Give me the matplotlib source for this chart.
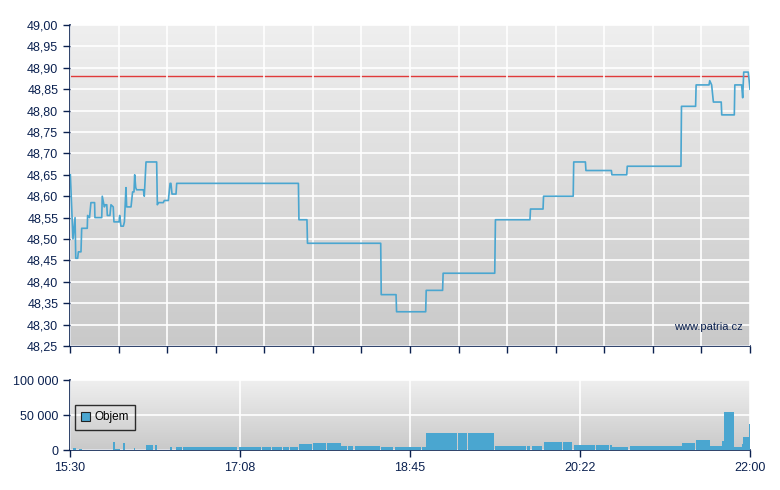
import numpy as np
import matplotlib
matplotlib.use('Agg')
from matplotlib import pyplot as plt

plt.rcParams['font.family'] = ['Liberation Sans', 'DejaVu Sans']

# price trace: minutes after 15:30, price
price_time = [0.2, 1.7, 2.9, 3.3, 4.4, 4.8, 6.3, 6.7, 9.9, 10.1, 11.2, 12.0, 14.1, 14.3,
              18.2, 18.5, 19.7, 20.3, 21.1, 21.4, 22.9, 23.5, 24.8, 25.2, 28.1, 28.5,
              29.2, 30.6, 31.2, 32.1, 32.5, 35.0, 35.9, 36.7, 37.1, 37.7, 38.2, 42.1,
              42.6, 43.6, 49.7, 50.1, 50.6, 53.5, 54.1, 56.4, 57.4, 57.9, 58.5, 60.8,
              61.2, 131.0, 131.3, 135.9, 136.2, 178.2, 178.5, 187.0, 187.3, 204.0,
              204.3, 213.7, 214.0, 243.6, 244.0, 263.8, 264.1, 271.3, 271.6, 288.6,
              288.9, 295.6, 295.9, 310.5, 310.8, 319.3, 319.6, 350.4, 350.7, 358.8,
              359.1, 366.5, 366.9, 368.0, 369.0, 373.5, 373.8, 381.0, 381.3, 385.2,
              385.8, 386.4, 389.0, 390.0]
price = [48.65, 48.50, 48.55, 48.455, 48.455, 48.47, 48.47, 48.525, 48.525, 48.555, 48.55,
         48.585, 48.585, 48.55, 48.55, 48.60, 48.575, 48.58, 48.58, 48.555, 48.555, 48.58,
         48.575, 48.54, 48.54, 48.555, 48.53, 48.53, 48.54, 48.62, 48.575, 48.575, 48.61,
         48.61, 48.65, 48.62, 48.615, 48.615, 48.60, 48.68, 48.68, 48.58, 48.585, 48.585,
         48.59, 48.59, 48.63, 48.63, 48.605, 48.605, 48.63, 48.63, 48.545, 48.545, 48.49,
         48.49, 48.37, 48.37, 48.33, 48.33, 48.38, 48.38, 48.42, 48.42, 48.545, 48.545,
         48.57, 48.57, 48.60, 48.60, 48.68, 48.68, 48.66, 48.66, 48.65, 48.65, 48.67,
         48.67, 48.81, 48.81, 48.86, 48.86, 48.87, 48.86, 48.82, 48.82, 48.79, 48.79,
         48.86, 48.86, 48.83, 48.89, 48.89, 48.85]
prev_close = 48.88

# volume bars: start minute, end minute, volume
vol_start = [1.7, 5.0, 24.5, 25.8, 30.2, 36.5, 43.6, 48.6, 57.2, 60.8, 64.6, 79.7, 97.1,
             110.1, 115.9, 122.0, 126.2, 131.3, 139.2, 147.2, 155.3, 159.4, 163.6, 178.2,
             186.4, 201.7, 204.0, 222.4, 228.1, 243.9, 260.0, 262.0, 264.8, 271.7, 282.6,
             289.1, 301.7, 309.7, 311.0, 321.2, 350.8, 359.0, 367.0, 369.0, 373.8, 375.3,
             381.0, 385.2, 386.2, 388.1, 389.4]
vol_end = [3.4, 6.9, 25.8, 28.7, 31.4, 37.1, 47.4, 49.7, 58.3, 64.2, 79.7, 96.0, 109.7,
           115.5, 121.4, 125.4, 130.9, 138.6, 146.8, 155.3, 159.0, 162.5, 177.8, 185.4,
           201.1, 204.0, 221.8, 227.5, 243.2, 259.6, 261.4, 263.8, 270.5, 282.0, 287.7,
           301.1, 309.1, 310.7, 320.2, 350.8, 358.5, 367.0, 369.0, 373.8, 375.3, 381.0,
           385.2, 386.2, 388.1, 389.4, 390.0]
volume = [3300, 1500, 12000, 1500, 10000, 3000, 7200, 7200, 4300, 4300, 4300, 4300, 4300,
          4300, 4300, 4300, 4300, 8700, 10600, 10600, 6300, 6300, 6300, 4300, 4300, 4300,
          25000, 25000, 25000, 5800, 5800, 5800, 5800, 12000, 12000, 7700, 7700, 7700,
          4300, 5800, 10600, 14400, 5800, 5800, 13500, 54800, 4300, 8000, 18800, 18800, 37500]

time_labels = ['15:30', '17:08', '18:45', '20:22', '22:00']

navy = '#0b2150'
blue = '#4aa6d0'

fig = plt.figure(figsize=(7.8, 4.9), dpi=100)
ax = fig.add_axes([70/780, 144/490, 680/780, 321/490])
axv = fig.add_axes([70/780, 40/490, 680/780, 70/490])

grad = np.linspace(0, 1, 256).reshape(-1, 1)
cmap = matplotlib.colors.LinearSegmentedColormap.from_list('bg', ['#efefef', '#c9c9c9'])

# price panel
ax.imshow(grad, aspect='auto', cmap=cmap, extent=[0, 390, 48.25, 49.0], zorder=0)
ax.set_xlim(0, 390)
ax.set_ylim(48.25, 49.0)
ax.set_xticks(np.linspace(0, 390, 15))
ax.set_xticklabels([])
yt = np.arange(48.25, 49.001, 0.05)
ax.set_yticks(yt)
ax.yaxis.set_major_formatter(matplotlib.ticker.FuncFormatter(lambda v, p: ('%.2f' % v).replace('.', ',')))
ax.grid(True, color='white', linewidth=1.2, zorder=1)
ax.axhline(prev_close, color='#e03a3a', linewidth=1, zorder=2)
ax.plot(price_time, price, color=blue, linewidth=1.2, zorder=3)
ax.text(0.99, 0.06, 'www.patria.cz', transform=ax.transAxes, ha='right', va='center',
        fontsize=8, color=navy, zorder=4)

# volume panel
axv.imshow(grad, aspect='auto', cmap=cmap, extent=[0, 390, 0, 100000], zorder=0)
axv.set_xlim(0, 390)
axv.set_ylim(0, 100000)
axv.set_xticks(np.linspace(0, 390, 5))
axv.set_xticklabels(time_labels)
axv.set_yticks([0, 50000, 100000])
axv.set_yticklabels(['0', '50 000', '100 000'])
axv.grid(True, color='white', linewidth=1.2, zorder=1)
widths = [e - s for s, e in zip(vol_start, vol_end)]
axv.bar(vol_start, volume, width=widths, align='edge', color=blue, linewidth=0,
        zorder=3, label='Objem')
leg = axv.legend(loc='upper left', bbox_to_anchor=(0.007, 0.645), borderaxespad=0,
                 fancybox=False, frameon=True, edgecolor='black', facecolor='none',
                 fontsize=8.5, handlelength=0.75, handleheight=0.75, borderpad=0.55,
                 handletextpad=0.35)
leg.get_frame().set_linewidth(1)
for p in leg.get_patches():
    p.set_edgecolor('#222222')
    p.set_linewidth(0.8)

for a in (ax, axv):
    for s in ('top', 'right'):
        a.spines[s].set_visible(False)
    for s in ('left', 'bottom'):
        a.spines[s].set_color(navy)
        a.spines[s].set_linewidth(1.2)
    a.tick_params(colors=navy, labelsize=9, length=5, width=1, direction='out')
    a.set_axisbelow(False)

plt.savefig('out.png', dpi=100)
